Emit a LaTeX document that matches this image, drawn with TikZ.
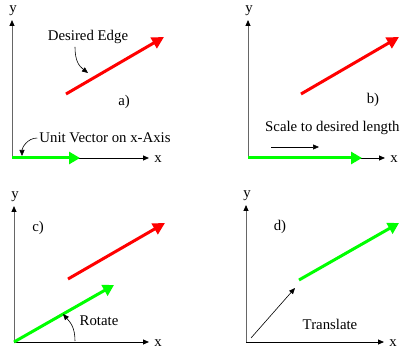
\documentclass[tikz,border=0pt]{standalone}
\usepackage{fontspec}
\setmainfont{Liberation Serif}
\usetikzlibrary{arrows.meta}

\begin{document}
\begin{tikzpicture}[x=1pt,y=-1pt,
  lbl/.style={inner sep=0pt,font=\fontsize{14.8pt}{17pt}\selectfont},
  axis/.style={line width=0.8pt,-{Triangle[length=6pt,width=5pt]}},
  yaxis/.style={axis,draw=black!60,-{Triangle[length=6pt,width=5pt,black]}},
  unitvec/.style={green,line width=3pt,-{Triangle[length=11pt,width=12pt]}},
  edgevec/.style={red,line width=3pt,-{Triangle[length=12pt,width=12pt]}},
  note/.style={line width=0.6pt,-{Triangle[length=6pt,width=5pt]}}]
  \useasboundingbox (0,0) rectangle (402,350);
  % Axes of the four panels
  \foreach \p/\ox/\oy/\yt/\xt in {a/12/158/20/149,b/248/158/20/385,c/14/342/206/149,d/246/342/205/384}{
    \coordinate (o\p) at (\ox,\oy);
    \coordinate (ye\p) at (\ox,\yt);
    \coordinate (xe\p) at (\xt,\oy);
    \node[lbl] (y\p) at (\ox+1,\yt-9) {y};
    \node[lbl] (x\p) at (\xt+9,\oy+1) {x};
    \draw[axis] (o\p) -- (xe\p);
    \draw[yaxis] (o\p) -- (ye\p);
  }
  % a) desired edge and unit vector
  \coordinate (ra0) at (66,94);
  \coordinate (ra1) at (164,37);
  \coordinate (ga1) at (80,158);
  \draw[edgevec] (ra0) -- (ra1);
  \draw[unitvec] (oa) -- (ga1);
  \node[lbl] (desired) at (88,37) {Desired Edge};
  \node[lbl] (taga) at (124,102) {a)};
  \node[lbl] (unitlbl) at (105,138) {Unit Vector on x-Axis};
  \coordinate (da1) at (88,73);
  \coordinate (ua1) at (22,156);
  \draw[note] ([xshift=-13pt,yshift=-3pt]desired.south) .. controls +(0,14) and +(-9,-7) .. (da1);
  \draw[note] ([xshift=-2pt]unitlbl.west) .. controls +(-10,0) and +(0,-8) .. (ua1);
  % b) scale to desired length
  \coordinate (rb0) at (301,94);
  \coordinate (rb1) at (399,37);
  \coordinate (gb1) at (362,158);
  \draw[edgevec] (rb0) -- (rb1);
  \draw[unitvec] (ob) -- (gb1);
  \node[lbl] (tagb) at (373,100) {b)};
  \node[lbl,anchor=west] (scalelbl) at (265,128) {Scale to desired length};
  \coordinate (sb0) at (271,147);
  \coordinate (sb1) at (319,147);
  \draw[note] (sb0) -- (sb1);
  % c) rotate
  \coordinate (rc0) at (68,279);
  \coordinate (rc1) at (165,223);
  \coordinate (gc1) at (114,285);
  \draw[edgevec] (rc0) -- (rc1);
  \draw[unitvec] (oc) -- (gc1);
  \node[lbl] (tagc) at (38,228) {c)};
  \node[lbl] (rotlbl) at (99,321) {Rotate};
  \coordinate (ac0) at (75,341);
  \coordinate (ac1) at (63,314);
  \draw[note] (ac0) .. controls +(0,-14) and +(7,8) .. (ac1);
  % d) translate
  \coordinate (gd0) at (299,280);
  \coordinate (gd1) at (399,223);
  \draw[unitvec] (gd0) -- (gd1);
  \node[lbl] (tagd) at (280,227) {d)};
  \node[lbl] (translbl) at (330,324) {Translate};
  \coordinate (td0) at (251,338);
  \coordinate (td1) at (295,288);
  \draw[note] (td0) -- (td1);
\end{tikzpicture}
\end{document}
